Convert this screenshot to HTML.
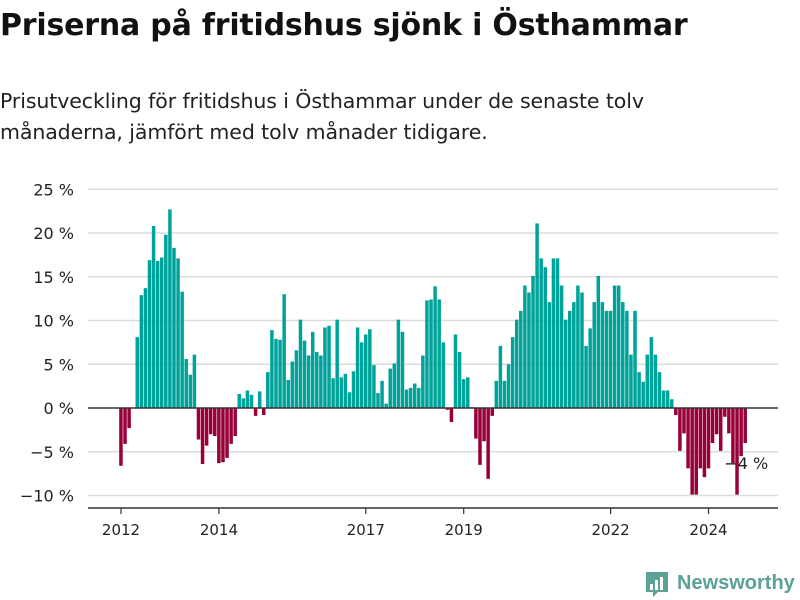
<!DOCTYPE html>
<html><head><meta charset="utf-8">
<style>
body{margin:0;width:800px;height:600px;background:#fff;font-family:"Liberation Sans",sans-serif;overflow:hidden;position:relative}
h1{position:absolute;left:0;top:8px;margin:0;font-family:"DejaVu Sans",sans-serif;font-size:30px;font-weight:bold;color:#111;letter-spacing:-0.2px}
.sub{position:absolute;left:0;top:86px;margin:0;font-family:"DejaVu Sans",sans-serif;font-size:20.5px;line-height:31px;color:#222;letter-spacing:-0.1px}
svg{position:absolute;left:0;top:0}
</style></head><body>
<h1>Priserna på fritidshus sjönk i Östhammar</h1>
<p class="sub">Prisutveckling för fritidshus i Östhammar under de senaste tolv<br>månaderna, jämfört med tolv månader tidigare.</p>
<svg id="chart" width="800" height="600"></svg>
<script>
const values=[-6.6,-4.1,-2.3,0,8.1,12.9,13.7,16.9,20.8,16.8,17.2,19.8,22.7,18.3,17.1,13.3,5.6,3.8,6.1,-3.6,-6.4,-4.3,-3.0,-3.2,-6.3,-6.2,-5.7,-4.1,-3.2,1.6,1.1,2.0,1.5,-0.9,1.9,-0.8,4.1,8.9,7.9,7.8,13.0,3.2,5.3,6.6,10.1,7.7,6.0,8.7,6.4,6.0,9.2,9.4,3.4,10.1,3.5,3.9,1.8,4.2,9.2,7.5,8.4,9.0,4.9,1.7,3.1,0.5,4.5,5.1,10.1,8.7,2.1,2.3,2.8,2.3,6.0,12.3,12.4,13.9,12.4,7.5,-0.2,-1.6,8.4,6.4,3.3,3.5,0.1,-3.5,-6.5,-3.8,-8.1,-0.9,3.1,7.1,3.1,5.0,8.1,10.1,11.1,14.0,13.2,15.1,21.1,17.1,16.1,12.1,17.1,17.1,14.0,10.1,11.1,12.1,14.0,13.2,7.1,9.1,12.1,15.1,12.1,11.1,11.1,14.0,14.0,12.1,11.1,6.1,11.1,4.1,3.0,6.1,8.1,6.1,4.1,2.0,2.0,1.0,-0.8,-4.9,-2.9,-6.9,-9.9,-9.9,-6.9,-7.9,-6.9,-4.0,-3.0,-4.9,-1.0,-2.9,-6.3,-9.9,-5.5,-4.0];
const yTicks=[25,20,15,10,5,0,-5,-10];
const yTickLabels=["25 %","20 %","15 %","10 %","5 %","0 %","−5 %","−10 %"];
const xTickIdx=[0,24,60,84,120,144];
const xTickLabels=["2012","2014","2017","2019","2022","2024"];
const lastLabel="−4 %";
const NS="http://www.w3.org/2000/svg";
const svg=document.getElementById('chart');
const y=v=>408-v*8.75;
const x=i=>121+i*4.08;
function mk(t,a){const e=document.createElementNS(NS,t);for(const k in a)e.setAttribute(k,a[k]);svg.appendChild(e);return e;}
yTicks.forEach((t,k)=>{
 if(t!==0){const g=mk('line',{x1:88,x2:778,y1:y(t),y2:y(t),stroke:'#dcdcdc','stroke-width':1.5});
 
 }
 const l=mk('text',{x:74,y:y(t)+6,'text-anchor':'end','font-size':16,fill:'#222','font-family':'DejaVu Sans, sans-serif'});
 l.textContent=yTickLabels[k];
 
 
});
values.forEach((v,i)=>{
 const r=mk('rect',{x:x(i)-1.8,width:3.5,y:v>=0?y(v):y(0),height:Math.abs(v)*8.75,fill:v>=0?'#00a39a':'#98003a'});
 
 
});
const z=mk('line',{x1:88,x2:778,y1:y(0),y2:y(0),stroke:'#333','stroke-width':1.5});


const ax=mk('line',{x1:88,x2:778,y1:508,y2:508,stroke:'#333','stroke-width':1.5});


xTickIdx.forEach((i,k)=>{
 const t=mk('line',{x1:x(i),x2:x(i),y1:508,y2:514,stroke:'#333','stroke-width':1.2});
 
 
 const l=mk('text',{x:x(i),y:535,'text-anchor':'middle','font-size':15,fill:'#222','font-family':'DejaVu Sans, sans-serif'});
 l.textContent=xTickLabels[k];
 
 
});
const ll=mk('text',{x:x(values.length-1)+1,y:469,'text-anchor':'middle','font-size':16,fill:'#222','font-family':'DejaVu Sans, sans-serif'});
ll.textContent=lastLabel;


const lg=mk('g',{});


const ic=document.createElementNS(NS,'path');ic.setAttribute('d','M646 572h22v20h-10l-5 5v-5h-7z');ic.setAttribute('fill','#5aa197');lg.appendChild(ic);
[[650,584,3,6],[655,580,3,10],[660,577,3,13]].forEach(b=>{const r=document.createElementNS(NS,'rect');r.setAttribute('x',b[0]);r.setAttribute('y',b[1]);r.setAttribute('width',b[2]);r.setAttribute('height',b[3]);r.setAttribute('fill','#fff');lg.appendChild(r);});
const lt=document.createElementNS(NS,'text');lt.setAttribute('x',677);lt.setAttribute('y',589);lt.setAttribute('font-size',20);lt.setAttribute('font-weight','bold');lt.setAttribute('fill','#5aa197');lt.setAttribute('font-family','Liberation Sans, sans-serif');lt.textContent='Newsworthy';lg.appendChild(lt);
</script>
</body></html>
